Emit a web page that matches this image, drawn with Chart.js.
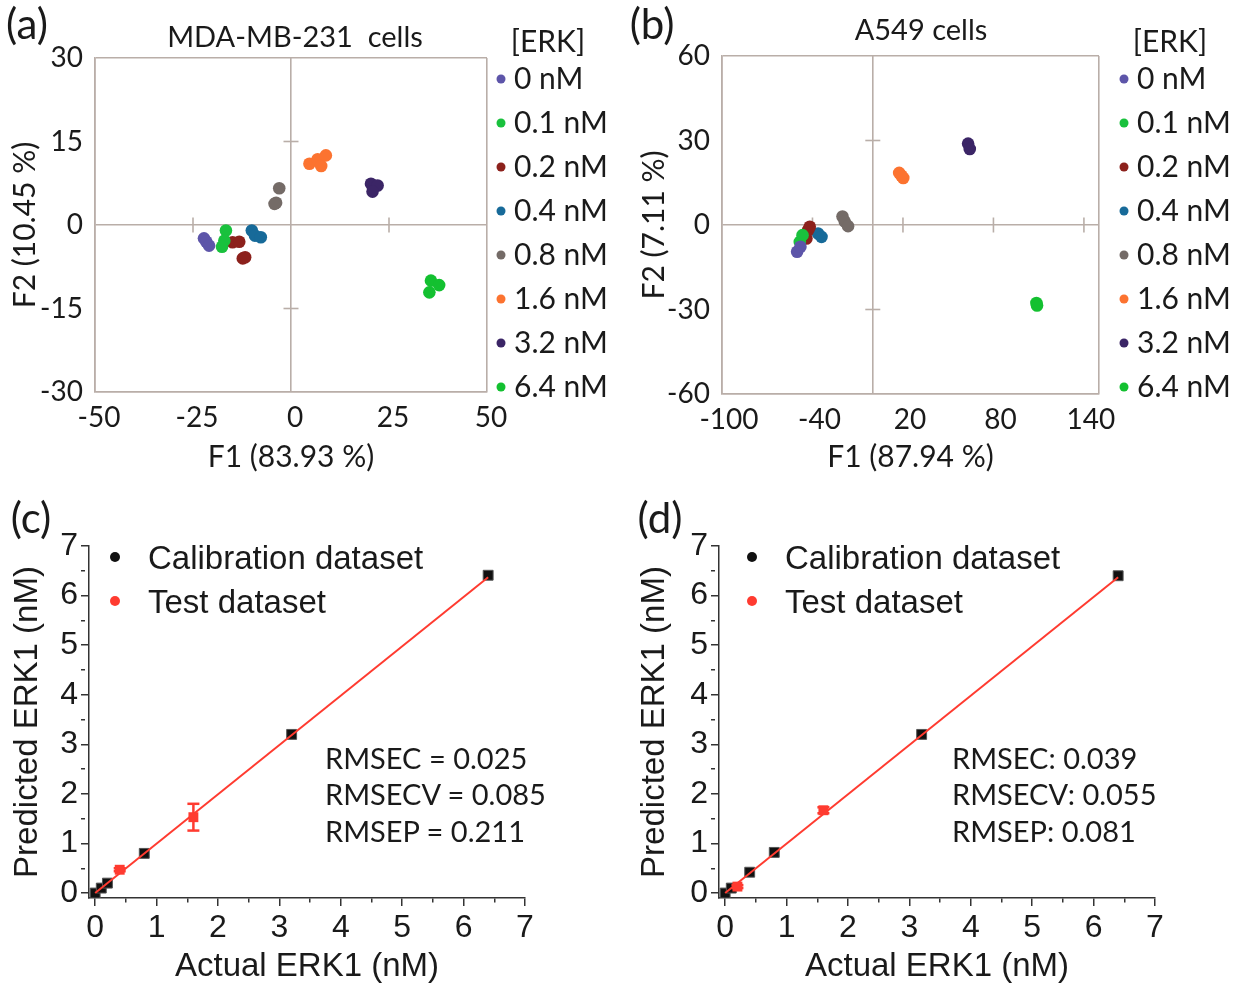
<!DOCTYPE html>
<html><head><meta charset="utf-8">
<script src="https://cdn.jsdelivr.net/npm/chart.js@4.4.1/dist/chart.umd.min.js"></script>
<style>
html,body{margin:0;padding:0;background:#fff;}
#fig{position:relative;width:1238px;height:989px;overflow:hidden;background:#fff;}
.pane{position:absolute;}
.t{position:absolute;white-space:pre;color:#1a1a1a;line-height:1;}
.c{transform:translate(-50%,-50%);}
.l{transform:translate(0,-50%);}
.cal{font-family:Lato,'Open Sans',sans-serif;}
.ari{font-family:'Liberation Sans',Arial,sans-serif;}
.dot{position:absolute;border-radius:50%;transform:translate(-50%,-50%);}
</style></head><body>
<div id="fig">
  <div class="pane" style="left:0;top:0;"><canvas id="ca" width="620" height="490"></canvas></div>
  <div class="pane" style="left:620px;top:0;"><canvas id="cb" width="618" height="490"></canvas></div>
  <div class="pane" style="left:0;top:490px;"><canvas id="cc" width="620" height="499"></canvas></div>
  <div class="pane" style="left:620px;top:490px;"><canvas id="cd" width="618" height="499"></canvas></div>
</div>
<script>
// ---------------- data ----------------
const concLabels = ['0 nM', '0.1 nM', '0.2 nM', '0.4 nM', '0.8 nM', '1.6 nM', '3.2 nM', '6.4 nM'];

// (a) MDA-MB-231 cells: F1 / F2 scores, one list per [ERK]
const mdaF1 = [
  [-22.2, -21.6, -20.9],
  [-16.6, -17.0, -17.6],
  [-14.9, -13.2, -12.3, -11.7],
  [-10.0, -9.2, -7.7],
  [-3.0, -3.8, -4.2],
  [4.7, 6.8, 7.7, 8.9],
  [20.4, 22.1, 20.8],
  [35.7, 37.8, 35.3]
];
const mdaF2 = [
  [-2.4, -3.0, -3.7],
  [-1.0, -2.8, -3.9],
  [-3.1, -3.0, -6.0, -5.8],
  [-1.0, -1.9, -2.2],
  [6.6, 4.0, 3.8],
  [11.0, 11.8, 10.6, 12.5],
  [7.4, 7.1, 6.0],
  [-10.0, -10.8, -12.1]
];
const mdaXTicks = [-50, -25, 0, 25, 50];
const mdaYTicks = [-30, -15, 0, 15, 30];

// (b) A549 cells
const a549F1 = [
  [-50.2, -48.0],
  [-48.4, -46.6],
  [-44.0, -42.8, -41.8],
  [-36.3, -34.0],
  [-20.1, -18.6, -16.4],
  [17.5, 20.2, 19.0],
  [63.2, 64.3],
  [108.5, 108.9]
];
const a549F2 = [
  [-9.5, -7.7],
  [-6.0, -3.6],
  [-4.8, -1.8, -0.6],
  [-3.0, -4.2],
  [3.0, 1.2, -0.4],
  [18.5, 16.7, 17.5],
  [28.9, 27.0],
  [-27.7, -28.6]
];
const a549XTicks = [-100, -40, 20, 80, 140];
const a549YTicks = [-60, -30, 0, 30, 60];

// (c) MDA-MB-231 PLS regression
const calActualC = [0, 0.1, 0.2, 0.8, 3.2, 6.4];
const calPredC   = [0, 0.1, 0.2, 0.8, 3.2, 6.41];
const testActualC = [0.4, 1.6];
const testPredC   = [0.47, 1.53];
const testErrC    = [0.03, 0.27];
const fitActualC = [0, 6.4];
const fitPredC   = [0, 6.37];
const statsC = ['RMSEC = 0.025', 'RMSECV = 0.085', 'RMSEP = 0.211'];

// (d) A549 PLS regression
const calActualD = [0, 0.1, 0.4, 0.8, 3.2, 6.4];
const calPredD   = [0, 0.1, 0.42, 0.82, 3.2, 6.4];
const testActualD = [0.2, 1.6];
const testPredD   = [0.13, 1.67];
const testErrD    = [0.03, 0.06];
const fitActualD = [0, 6.4];
const fitPredD   = [0, 6.37];
const statsD = ['RMSEC: 0.039', 'RMSECV: 0.055', 'RMSEP: 0.081'];

const calTickLabels = [0, 1, 2, 3, 4, 5, 6, 7];
const legendLabels = ['Calibration dataset', 'Test dataset'];

// ---------------- styles ----------------
const concColors = ['#5d55a9', '#19c13d', '#8c211c', '#176a99', '#746b67', '#fc7330', '#3b2566', '#13c030'];
const F_CAL = "Lato, 'Open Sans', sans-serif";
const F_ARI = "'Liberation Sans', Arial, sans-serif";
const TXT = '#1a1a1a';
const BOX = '#b9aea8';
const RED = '#ff3b30';

const fig = document.getElementById('fig');
function addText(txt, x, y, cls, size, center) {
  const d = document.createElement('div');
  d.className = 't ' + cls + (center ? ' c' : ' l');
  d.style.left = x + 'px'; d.style.top = y + 'px'; d.style.fontSize = size + 'px';
  d.textContent = txt;
  fig.appendChild(d);
}
function addDot(x, y, r, col) {
  const d = document.createElement('div');
  d.className = 'dot';
  d.style.left = x + 'px'; d.style.top = y + 'px';
  d.style.width = (2 * r) + 'px'; d.style.height = (2 * r) + 'px';
  d.style.background = col;
  fig.appendChild(d);
}

// ---------------- PCA panels ----------------
function pcaAxis(min, max, tickVals, title, size, horizontal, titlePad, tickPad, labelOffset) {
  const lines = [min, 0, max];
  return {
    type: 'linear', min, max,
    afterBuildTicks: s => {
      const v = Array.from(new Set([min, 0, max, ...tickVals])).sort((a, b) => a - b);
      s.ticks = v.map(value => ({ value }));
    },
    ticks: { autoSkip: false, maxRotation: 0, padding: tickPad, color: TXT, labelOffset,
             font: { family: F_CAL, size: 28 },
             callback: v => tickVals.includes(v) ? String(v) : '' },
    grid: { drawTicks: false, lineWidth: 1.6,
            color: c => (c.tick && lines.includes(c.tick.value)) ? BOX : 'rgba(0,0,0,0)' },
    border: { display: true, color: BOX, width: 1.6 },
    title: { display: true, text: title, color: TXT, font: { family: F_CAL, size: 30 }, padding: titlePad },
    afterFit: s => { if (horizontal) s.height = size; else s.width = size; }
  };
}
function pcaChart(id, f1, f2, xmin, xmax, xt, ymin, ymax, yt, xTitle, yTitle, area, cw, ch, yTitlePadTop, xLabelOffset) {
  const sets = concLabels.map((lab, i) => ({
    label: lab,
    data: f1[i].map((x, j) => ({ x, y: f2[i][j] })),
    backgroundColor: concColors[i], borderWidth: 0, pointRadius: 6.3, pointHoverRadius: 6.3
  }));
  sets.push({ label: 'xmarks', data: xt.filter(v => v !== 0 && v !== xmin && v !== xmax).map(v => ({ x: v, y: 0 })),
    pointStyle: 'line', pointRotation: 90, pointRadius: 7.5, borderColor: BOX, borderWidth: 1.6 });
  sets.push({ label: 'ymarks', data: yt.filter(v => v !== 0 && v !== ymin && v !== ymax).map(v => ({ x: 0, y: v })),
    pointStyle: 'line', pointRotation: 0, pointRadius: 7.5, borderColor: BOX, borderWidth: 1.6 });
  return new Chart(document.getElementById(id), {
    type: 'scatter',
    data: { datasets: sets },
    options: {
      responsive: false, animation: false, devicePixelRatio: 1, events: [],
      layout: { padding: { left: 0, top: area.top, right: cw - area.right, bottom: 0 } },
      plugins: { legend: { display: false }, tooltip: { enabled: false }, title: { display: false } },
      scales: {
        x: pcaAxis(xmin, xmax, xt, xTitle, ch - area.bottom, true, { top: 4, bottom: 15 }, 9, xLabelOffset),
        y: pcaAxis(ymin, ymax, yt, yTitle, area.left, false, { top: yTitlePadTop, bottom: 0 }, 12, 0)
      }
    }
  });
}
pcaChart('ca', mdaF1, mdaF2, -50, 50, mdaXTicks, -30, 30, mdaYTicks, 'F1 (83.93 %)', 'F2 (10.45 %)',
  { left: 95, right: 487, top: 58, bottom: 392 }, 620, 490, 7, 4);
pcaChart('cb', a549F1, a549F2, -100, 150, a549XTicks, -60, 60, a549YTicks, 'F1 (87.94 %)', 'F2 (7.11 %)',
  { left: 102, right: 479, top: 56, bottom: 394 }, 618, 490, 16, 7);

// ---------------- regression panels ----------------
const calMinor = calTickLabels.flatMap(v => v < calTickLabels[calTickLabels.length - 1] ? [v, v + 0.5] : [v]);
function calAxis(title, size, horizontal, titlePad, tickPad) {
  return {
    type: 'linear', min: -0.1, max: 7,
    afterBuildTicks: s => { s.ticks = calMinor.map(value => ({ value })); },
    ticks: { autoSkip: false, maxRotation: 0, padding: tickPad, color: TXT,
             font: { family: F_ARI, size: 32 },
             callback: v => calTickLabels.includes(v) ? String(v) : '' },
    grid: { drawOnChartArea: false, drawTicks: true, tickLength: 8, color: '#333', lineWidth: 1.5,
            tickBorderDash: c => (c.tick && Number.isInteger(c.tick.value)) ? [] : [4, 40] },
    border: { display: true, color: '#333', width: 1.5 },
    title: { display: true, text: title, color: TXT, font: { family: F_ARI, size: 33 }, padding: titlePad },
    afterFit: s => { if (horizontal) s.height = size; else s.width = size; }
  };
}
function regChart(id, calA, calP, tA, tP, tE, fA, fP, area, cw, ch, yTitlePadTop) {
  const sets = [];
  sets.push({ label: legendLabels[1], data: tA.map((x, i) => ({ x, y: tP[i] })),
    pointStyle: 'rect', pointRadius: 7, backgroundColor: RED, borderColor: RED, borderWidth: 0 });
  tA.forEach((x, i) => sets.push({ label: 'err' + i,
    data: [{ x, y: tP[i] - tE[i] }, { x, y: tP[i] + tE[i] }], showLine: true,
    borderColor: RED, borderWidth: 2.5, pointStyle: 'line', pointRadius: 6, pointBorderWidth: 2.5 }));
  sets.push({ label: 'fit', data: fA.map((x, i) => ({ x, y: fP[i] })), showLine: true,
    borderColor: RED, borderWidth: 2, pointRadius: 0 });
  sets.push({ label: legendLabels[0], data: calA.map((x, i) => ({ x, y: calP[i] })),
    pointStyle: 'rect', pointRadius: 7, backgroundColor: '#111', borderColor: '#555', borderWidth: 1 });
  return new Chart(document.getElementById(id), {
    type: 'scatter',
    data: { datasets: sets },
    options: {
      responsive: false, animation: false, devicePixelRatio: 1, events: [],
      layout: { padding: { left: 0, top: area.top, right: cw - area.right, bottom: 0 } },
      plugins: { legend: { display: false }, tooltip: { enabled: false } },
      scales: {
        x: calAxis('Actual ERK1 (nM)', ch - area.bottom, true, { top: 2, bottom: 2 }, 3),
        y: calAxis('Predicted ERK1 (nM)', area.left, false, { top: yTitlePadTop, bottom: 0 }, 3)
      }
    }
  });
}
regChart('cc', calActualC, calPredC, testActualC, testPredC, testErrC, fitActualC, fitPredC,
  { left: 89, right: 525, top: 56, bottom: 408 }, 620, 499, 8);
regChart('cd', calActualD, calPredD, testActualD, testPredD, testErrD, fitActualD, fitPredD,
  { left: 99, right: 535, top: 56, bottom: 408 }, 618, 499, 15);

// ---------------- text, legends ----------------
addText('(a)', 27, 23, 'cal', 42, true);
addText('(b)', 652, 23, 'cal', 42, true);
addText('(c)', 31, 517, 'cal', 42, true);
addText('(d)', 660, 517, 'cal', 42, true);
addText('MDA-MB-231  cells', 295, 35, 'cal', 29, true);
addText('A549 cells', 921, 28, 'cal', 29, true);
addText('[ERK]', 548, 40, 'cal', 30, true);
addText('[ERK]', 1170, 40, 'cal', 30, true);
concLabels.forEach((lab, i) => {
  addDot(501, 79 + 44 * i, 4.5, concColors[i]);
  addText(lab, 514, 77 + 44 * i, 'cal', 30, false);
  addDot(1124, 79 + 44 * i, 4.5, concColors[i]);
  addText(lab, 1137, 77 + 44 * i, 'cal', 30, false);
});
[[115, 148], [752, 785]].forEach(([dx, tx]) => {
  addDot(dx, 557, 5, '#111'); addText(legendLabels[0], tx, 557, 'ari', 33, false);
  addDot(dx, 601, 5, RED); addText(legendLabels[1], tx, 601, 'ari', 33, false);
});
statsC.forEach((s, i) => addText(s, 325, [757, 793, 830][i], 'cal', 29, false));
statsD.forEach((s, i) => addText(s, 952, [757, 793, 830][i], 'cal', 29, false));
</script>
</body></html>
